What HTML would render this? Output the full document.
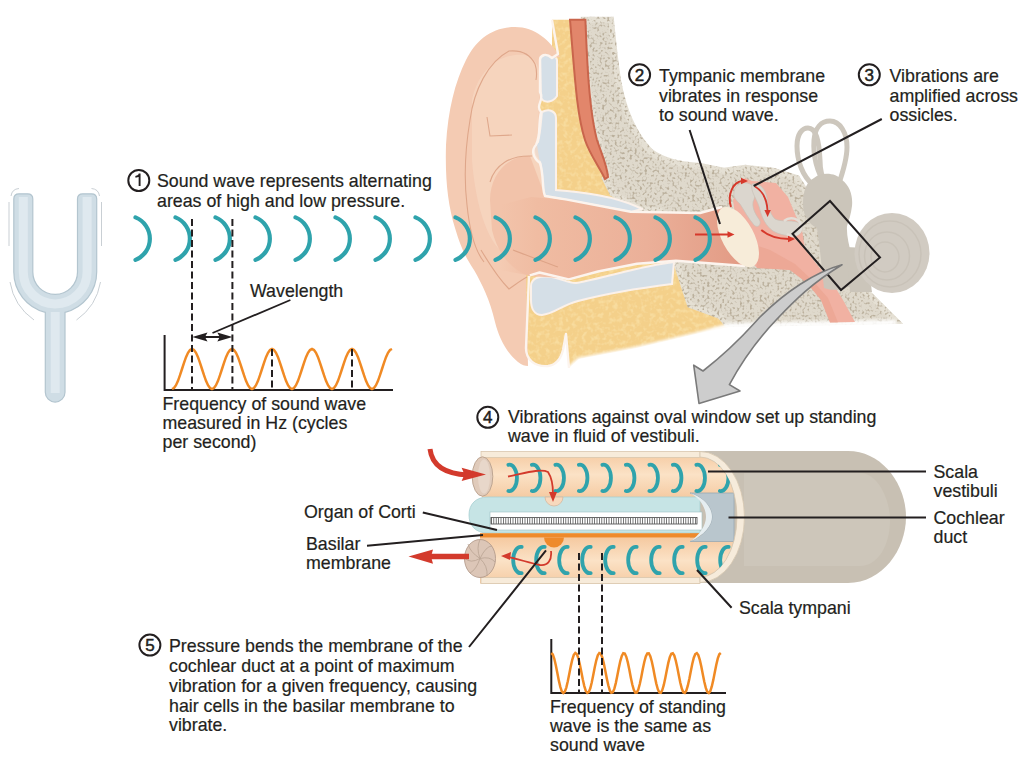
<!DOCTYPE html>
<html><head><meta charset="utf-8"><style>
html,body{margin:0;padding:0;background:#fff;width:1024px;height:761px;overflow:hidden}
svg{display:block}
text{font-family:"Liberation Sans",sans-serif;font-size:17.8px;fill:#231f20;stroke:#231f20;stroke-width:0.2px}
text.n{font-size:17px;stroke-width:0.5px;text-anchor:middle}
</style></head><body>
<svg width="1024" height="761" viewBox="0 0 1024 761">
<defs>
<filter id="sponge" x="0" y="0" width="100%" height="100%" filterUnits="userSpaceOnUse">
<feTurbulence type="fractalNoise" baseFrequency="0.4" numOctaves="1" seed="3" result="n"/>
<feColorMatrix in="n" type="matrix" values="0 0 0 0 0  0 0 0 0 0  0 0 0 0 0  -5 0 0 0 2.45" result="spots"/>
<feFlood flood-color="#bbb09c" result="c"/>
<feComposite in="c" in2="spots" operator="in" result="cs"/>
<feComposite in="cs" in2="SourceGraphic" operator="atop"/>
</filter>
<filter id="fatf" x="0" y="0" width="100%" height="100%" filterUnits="userSpaceOnUse">
<feTurbulence type="fractalNoise" baseFrequency="0.22" numOctaves="2" seed="5" result="n"/>
<feColorMatrix in="n" type="matrix" values="0 0 0 0 0  0 0 0 0 0  0 0 0 0 0  3.5 0 0 0 -1.65" result="spots"/>
<feFlood flood-color="#f8dc9e" result="c"/>
<feComposite in="c" in2="spots" operator="in" result="cs"/>
<feComposite in="cs" in2="SourceGraphic" operator="atop"/>
</filter>
<filter id="soft" x="-10%" y="-50%" width="120%" height="200%"><feGaussianBlur stdDeviation="1.8"/></filter>
<linearGradient id="canal" gradientUnits="userSpaceOnUse" x1="500" x2="745" y1="0" y2="0"><stop offset="0" stop-color="#f0bea4" stop-opacity="0"/><stop offset="0.15" stop-color="#f0bca2"/><stop offset="0.6" stop-color="#ebb099"/><stop offset="1" stop-color="#e29a84"/></linearGradient>
<linearGradient id="peach" x1="0" x2="0" y1="0" y2="1"><stop offset="0" stop-color="#f5cfae"/><stop offset="0.5" stop-color="#fbe3cb"/><stop offset="1" stop-color="#f5cfae"/></linearGradient>
</defs>
<g id="ear">
<!-- yellow fat -->
<path fill="#f4d08a" filter="url(#fatf)" d="M552,19.7 L572,19.7 L585,140 L605,179 L640,209 L720,213 L720,262 L676,262 L690,305 L720,316 L728,327 L696,334 L637,348 L579,359 L569,368 L566,334 L563,350 C561,358 556,365 548,366 C535,367 526,360 526,348 L526,273 L536,200 L532,142 L540,90 L552,54 Z"/>
<!-- bone -->
<path id="bonep" fill="#dfd9cc" filter="url(#sponge)" d="M584,19.7 L611,19.7 C613,40 615,60 618,80 C623,108 632,133 651,152 C663,161 682,165 700,166 L724,170.6 L745,167.7 L773,170.6 L797,178 L806,192 L835,240 L864,289 L896,321 L727,324 L720,316 L690,305 L676,262 L660,211 L640,208.7 L612.6,193.6 L605,178.5 L608,175 L597.5,136 L588.4,90.7 Z"/>
<use href="#bonep" fill="none" stroke="#e5e0d4" stroke-width="6"/>
<!-- red band -->
<path fill="#e2866b" stroke="#c9654c" stroke-width="2" d="M570,19.7 L585.4,19.7 C587,60 589,110 597,140 C602,155 607,165 608,177 L605,179 C600,168 590,155 585,140 C577,115 575,80 570,19.7 Z"/>
<!-- cartilage -->
<g fill="#d5dfe7" stroke="#fbf1ea" stroke-width="2">
<path d="M540,58 C546,52 556,54 557,60 L557,96 C553,102 545,104 541,98 Z"/>
<path d="M542,112 C550,108 556,112 556,118 L556,190 L567,191 C590,193 620,198 642,209 L631,212 L567,200 L545,196 C540,185 543,170 540,162 C533,155 532,146 538,142 C541,130 541,118 542,112 Z"/>
<path d="M531,286 C531,278 540,275 552,277 C562,279 568,283 576,283 C605,278 640,266 674,262 L672,284 C640,288 605,294 578,301 C562,305 554,314 542,315 C534,315 531,308 531,300 Z"/>
</g>
<path d="M569,369 L579,360 L637,349 L696,335 L728,326 L896,322.5" fill="none" stroke="#fff" stroke-width="5" filter="url(#soft)"/>
<!-- pinna -->
<path fill="#f4cbb3" d="M560,57 C550,40 535,27 515,27 C492,27 476,40 466,60 C455,82 448,110 446,145 C445,180 448,205 455,228 C461,248 466,258 474,270 C482,284 490,300 495,322 C499,338 506,352 518,362 C522,365 525,366 528,366 L526,273 L545,196 C542,190 544,175 540,163 C533,158 531,150 536,145 C541,135 538,125 541,112 C535,105 545,100 540,92 L540,60 C540,56 545,52 552,58 Z"/>
<path fill="#f7d7c2" opacity="0.7" d="M472,100 C478,70 500,52 525,55 C538,58 541,70 540,90 L537,145 L540,163 L545,196 L500,250 C485,235 475,200 472,160 Z"/>
<!-- concha -->
<path fill="#f2c3aa" d="M490,200 C490,175 508,155 530,156 L545,196 L560,200 L560,278 L529,276 C512,270 498,255 492,230 Z"/>
<!-- canal -->
<path fill="url(#canal)" d="M500,205 L531,197 L567,200 L631,211.7 L700,213 L722,207 L745,266 L676,261 L637,263.7 L598,271.5 L568.8,279.3 L539.5,272.5 L529.8,275.4 L500,270 Z"/>
<!-- white outlines -->
<g fill="none" stroke="#fcf4ee" stroke-width="2.4" stroke-linejoin="round">
<path d="M552,19.7 L558,54 L552,58 C545,52 540,56 540,60 L540,92 C545,100 535,105 541,112 C538,125 541,135 536,145 C531,150 533,158 540,163 C544,175 542,190 545,196 L567,199.6 L630.7,211.7 L700,213 L722,207"/>
<path d="M529.8,275.4 L539.5,272.5 L568.8,279.3 L598,271.5 L637,263.7 L676,260.7 L745,266"/>
<path d="M529,276 L526,348 C526,360 535,367 548,366 C556,365 561,358 563,350 L566,334 L569,368"/>
</g>
<!-- pinna lines -->
<g fill="none" stroke="#dba083" stroke-width="1.1" opacity="0.85">
<path d="M470,120 C474,90 488,62 509,51 C520,50 530,54 535,64 C537,70 537,74 536,80"/>
<path d="M470,120 C465,150 464,180 467,205 C470,235 476,252 484,262"/>
<path d="M487,117 L490,136 L512,135"/>
<path d="M490,182 C495,165 510,155 532,156"/>
<path d="M481,250 C490,265 500,280 509,289 C515,285 521,280 527,277"/>
<path d="M513,250 C528,256 545,262 558,267"/>
</g>
<!-- middle ear cavity -->
<path fill="#f1b1a2" d="M745,178 L752,181 L776,183 L788,197 L795,214 L802,230 L805,249 L818,266 L832,282 L843,300 L855,322 L830,322.5 L821,300 L807,283 L790,270 L757,268 L740,250 L733,200 Z"/>
<path fill="#e9a08a" opacity="0.5" d="M757,268 L790,270 L807,283 L821,300 L830,322.5 L838,322.5 L828,298 L812,280 L795,264 L770,250 L755,245 Z"/>
<!-- membrane -->
<ellipse cx="738" cy="237" rx="16" ry="33" transform="rotate(-28 738 237)" fill="#f7ecd9"/>
<!-- ossicles -->
<g fill="#dbd6ce" stroke="#c9c2b8" stroke-width="0.7">
<path d="M734,192 C735,184 743,181 750,184 C756,188 756,196 753,202 C752,210 757,216 760,221 C761,226 757,228 754,225 C748,218 744,210 740,204 C736,200 733,197 734,192 Z"/>
<path d="M752,184 C760,182 766,190 767,198 C768,206 770,214 775,219 C781,222 790,220 797,222 C803,224 804,232 798,235 C790,237 780,235 773,231 C766,226 762,218 760,210 C758,200 750,192 752,184 Z"/>
</g>
<path d="M784,221 C790,216 800,218 801,226 C802,234 793,238 787,234" fill="none" stroke="#e3ded7" stroke-width="2.5"/>
<!-- inner ear -->
<g fill="none" stroke="#cdc7bd" stroke-width="5">
<path d="M814,186 C802,176 797,160 797,146 C797,134 802,128 808,128 C816,128 819,140 820,160 C820,170 822,178 826,184"/>
<path d="M826,186 C817,172 813,155 814,140 C815,128 821,121 830,121 C840,121 847,133 847,147 C847,160 843,172 838,186"/>
</g>
<path fill="#cbc5ba" d="M814,178 C820,172 836,172 842,180 C850,186 853,196 852,206 C851,214 849,220 847,226 C846,240 853,258 857,278 C852,290 835,292 824,288 C822,270 820,248 817,228 C808,224 803,214 803,204 C803,192 806,182 814,178 Z"/>
<path d="M846,247 L866,248 L872,292 L850,292 Z" fill="#cbc5ba"/>
<ellipse cx="892" cy="253" rx="37.5" ry="40" fill="#d1cbc2"/>
<g fill="none" stroke="#bfb8ad" stroke-width="1.5" opacity="0.45">
<ellipse cx="890" cy="254" rx="31" ry="33"/><ellipse cx="887" cy="256" rx="22.5" ry="24"/><ellipse cx="885" cy="257" rx="14" ry="15"/>
</g>
<!-- red arrows -->
<g fill="none" stroke="#d6382b" stroke-width="1.9">
<path d="M695,234.5 H729"/>
<path d="M731,207 C727,195 733,182 742,181"/>
<path d="M755,186.5 C763,191 767,200 767.6,211"/>
<path d="M761.3,230 C768,236 778,239 789,239"/>
</g>
<g fill="#d6382b">
<path d="M734.5,234.5 l-7,-3.2 v6.4 z"/>
<path d="M748,181 l-7,-3.2 v6.4 z"/>
<path d="M767.6,217 l-3.2,-7 h6.4 z"/>
<path d="M795,239 l-7,-3.2 v6.4 z"/>
</g>
<!-- box -->
<path d="M830,201 L880,257.5 L841,290 L792.5,233.75 Z" fill="none" stroke="#231f20" stroke-width="2"/>
<!-- gray arrow -->
<path d="M842,264.7 C815,272 785,292 760,317 C748,330 735,346 703,371 L693.7,365.2 L699,403.5 L740,391 L729.4,384.6 C740,365 757,340 777,319 C795,300 812,283 842,264.7 Z" fill="#cdcdcd" stroke="#7a7a7a" stroke-width="1.6" stroke-linejoin="round"/>
<!-- pointer lines -->
<path d="M689.6,130 L720,224 M881.8,119 L753.6,186" stroke="#231f20" stroke-width="2" fill="none"/>
</g>

<!-- tuning fork -->
<g id="fork">
<path d="M13.8,199 Q13.8,193.8 19,193.8 L27.6,193.8 Q32.8,193.8 32.8,199 L32.8,272 A22.35,22.35 0 0 0 77.5,272 L77.5,199 Q77.5,193.8 82.7,193.8 L91.5,193.8 Q96.7,193.8 96.7,199 L96.7,272 A41.45,41.45 0 0 1 65,312.3 L65,392.2 A9.85,9.85 0 0 1 45.3,392.2 L45.3,312.3 A41.45,41.45 0 0 1 13.8,272 Z" fill="#cfdde5" stroke="#b3c5cf" stroke-width="1.2"/>
<path d="M23.3,197 V272 A31.9,31.9 0 0 0 87.1,272 V197 M55.2,312 V393" fill="none" stroke="#dfe9ef" stroke-width="9"/>
<g fill="none" stroke="#c3cacf" stroke-width="0.9">
<path d="M9,202 V246 M101.5,202 V246 M11,196 Q12,189 19,188.5 M99.5,196 Q98.5,189 91.5,188.5 M10,282 Q14,306 34,320 M100.5,282 Q96.5,306 76.5,320"/>
</g>
</g>
<path d="M135.5,217.4 A22.9,22.9 0 0 1 135.5,259.9 M175.5,217.4 A22.9,22.9 0 0 1 175.5,259.9 M215.5,217.4 A22.9,22.9 0 0 1 215.5,259.9 M255.5,217.4 A22.9,22.9 0 0 1 255.5,259.9 M295.5,217.4 A22.9,22.9 0 0 1 295.5,259.9 M335.5,217.4 A22.9,22.9 0 0 1 335.5,259.9 M375.5,217.4 A22.9,22.9 0 0 1 375.5,259.9 M415.5,217.4 A22.9,22.9 0 0 1 415.5,259.9 M455.5,217.4 A22.9,22.9 0 0 1 455.5,259.9 M495.5,217.4 A22.9,22.9 0 0 1 495.5,259.9 M535.5,217.4 A22.9,22.9 0 0 1 535.5,259.9 M575.5,217.4 A22.9,22.9 0 0 1 575.5,259.9 M615.5,217.4 A22.9,22.9 0 0 1 615.5,259.9 M655.5,217.4 A22.9,22.9 0 0 1 655.5,259.9 M695.5,217.4 A22.9,22.9 0 0 1 695.5,259.9" fill="none" stroke="#2fa3ac" stroke-width="4.2" stroke-linecap="round"/>
<g id="coch">
<defs>
<linearGradient id="sv" x1="0" x2="0" y1="0" y2="1"><stop offset="0" stop-color="#f5c9a0"/><stop offset="0.5" stop-color="#fbe2c6"/><stop offset="1" stop-color="#f5cba3"/></linearGradient>
<clipPath id="rimclip"><path d="M400,440 H700 V457 A37,60 0 0 1 700,577 V600 H400 Z"/></clipPath>
</defs>
<!-- outer gray cylinder -->
<path d="M690,451 H848 C882,451 906,484 906,517 C906,550 882,583 848,583 H690 Z" fill="#c8c0b3"/>
<path d="M744,473 H860 C878,473 890,500 890,520 C890,545 878,566 860,566 H744 Z" fill="#cdc6ba"/>
<!-- top/bottom cream strips -->

<!-- scala vestibuli -->
<g clip-path="url(#rimclip)"><rect x="482" y="452" width="280" height="45" fill="url(#sv)"/>
<!-- scala tympani -->
<rect x="480" y="537.5" width="280" height="46" fill="url(#sv)"/></g>
<!-- cross-section inside rim -->

<rect x="481" y="451.5" width="219" height="6" fill="#f7ebda" stroke="#d9c6ad" stroke-width="0.8"/>
<rect x="481" y="577.5" width="219" height="6" fill="#f7ebda" stroke="#d9c6ad" stroke-width="0.8"/>
<!-- cochlear duct -->
<path d="M488,497 H700 V533 H488 C475,533 469,525 469,515 C469,504 476,497 488,497 Z" fill="#c6e4e5" stroke="#a7cfd2" stroke-width="0.8"/>
<!-- notch -->
<path d="M545,497 A9,9 0 0 0 563,497 Z" fill="#f7d9bd" stroke="#d8b89c" stroke-width="0.8"/>
<!-- organ of corti -->
<rect x="490" y="512" width="212" height="18" fill="#ffffff" stroke="#9dbfc3" stroke-width="0.6"/>
<rect x="491" y="517.5" width="206" height="6.5" fill="#fff" stroke="#444" stroke-width="0.8"/>
<path d="M491,521 H697" stroke="#555" stroke-width="6" stroke-dasharray="0.8,1.6" fill="none"/>
<rect x="492.5" y="519" width="203" height="3.5" fill="#fff" opacity="0.0"/>
<!-- basilar membrane -->
<rect x="480" y="533.2" width="222" height="4.4" fill="#ee8a2c"/>
<path d="M544,537.5 A10,10 0 0 0 564,537.5 Z" fill="#ee8a2c"/>
<!-- cochlear duct end -->
<path d="M690,493 H734 V541.5 H690 C705,535 712,525 712,517 C712,508 705,498 690,493 Z" fill="#b9c6cd" stroke="#98a8b2" stroke-width="0.8"/>
<path d="M690,493 C705,498 712,508 712,517 C712,525 705,535 690,541.5 C700,535 706,525 706,517 C706,508 700,498 690,493 Z" fill="#e6eef1"/>
<!-- rim -->
<path d="M700,451.5 A44.5,65.5 0 0 1 700,582.5 L700,577 A37,60 0 0 0 700,457 Z" fill="#f6ebdb" stroke="#d6c6b0" stroke-width="0.8"/>
<!-- oval window -->
<ellipse cx="482.5" cy="476.5" rx="10.3" ry="19.7" fill="#e0cbbb" stroke="#b9a08c" stroke-width="0.9"/><ellipse cx="484" cy="476.5" rx="6" ry="17" fill="#e8d7ca"/>
<!-- round window -->
<ellipse cx="480" cy="558.5" rx="15.5" ry="19" fill="#dcc6b7" stroke="#b39b8b" stroke-width="0.9"/>
<g stroke="#b9a393" stroke-width="0.8" fill="none">
<path d="M480,558.5 Q476,548 480,539.5 M480,558.5 Q486,546 492,546 M480,558.5 Q490,556 495,562 M480,558.5 Q488,566 487,576 M480,558.5 Q476,570 470,573 M480,558.5 Q470,564 465,558 M480,558.5 Q470,552 468,544"/>
</g>
<!-- teal arcs -->
<g clip-path="url(#rimclip)"><path d="M508.4,464.8 A7.6,13.2 0 1 1 508.4,491.0 M531.9,464.8 A7.6,13.2 0 1 1 531.9,491.0 M555.4,464.8 A7.6,13.2 0 1 1 555.4,491.0 M578.9,464.8 A7.6,13.2 0 1 1 578.9,491.0 M602.4,464.8 A7.6,13.2 0 1 1 602.4,491.0 M625.9,464.8 A7.6,13.2 0 1 1 625.9,491.0 M649.4,464.8 A7.6,13.2 0 1 1 649.4,491.0 M672.9,464.8 A7.6,13.2 0 1 1 672.9,491.0 M696.4,464.8 A7.6,13.2 0 1 1 696.4,491.0 M719.9,464.8 A7.6,13.2 0 1 1 719.9,491.0" fill="none" stroke="#2fa3ac" stroke-width="3.8" stroke-linecap="round"/>
<path d="M521.7,546.9 A7.6,13.2 0 1 0 521.7,573.1 M544.7,546.9 A7.6,13.2 0 1 0 544.7,573.1 M567.7,546.9 A7.6,13.2 0 1 0 567.7,573.1 M590.7,546.9 A7.6,13.2 0 1 0 590.7,573.1 M613.7,546.9 A7.6,13.2 0 1 0 613.7,573.1 M636.7,546.9 A7.6,13.2 0 1 0 636.7,573.1 M659.7,546.9 A7.6,13.2 0 1 0 659.7,573.1 M682.7,546.9 A7.6,13.2 0 1 0 682.7,573.1 M705.7,546.9 A7.6,13.2 0 1 0 705.7,573.1 M728.7,546.9 A7.6,13.2 0 1 0 728.7,573.1" fill="none" stroke="#2fa3ac" stroke-width="3.8" stroke-linecap="round"/></g>
<!-- red arrows -->
<g fill="none" stroke="#d33a2c" stroke-linecap="butt">
<path d="M430,449 C432,466 446,474 468,475" stroke-width="5"/>
<path d="M469,556.6 H431" stroke-width="5.5"/>
<path d="M508,476.5 C522,474 540,468 548,472 C552,478 553,488 553,494" stroke-width="1.8"/>
<path d="M551,551 C552,560 548,566 540,565 C530,563 518,559 508,557" stroke-width="1.8"/>
</g>
<g fill="#d33a2c">
<path d="M486,474.4 L461.6,467.8 L464.5,474.4 L461.6,481 Z"/>
<path d="M408.5,556.6 L433,549.5 L431,556.6 L433,563.7 Z"/>
<path d="M553,502 L549,492 L557,492 Z"/>
<path d="M501,556 L511,552 L510,560 Z"/>
</g>
<!-- pointer lines -->
<path d="M422.8,512.5 L497,530 M367,545.7 L483,535 M708,471.6 H926 M728.5,517.5 H926 M697,570 L731.6,607.7 M469,647 L546,550.4" stroke="#231f20" stroke-width="2" fill="none"/>
</g>

<!-- chart 1 -->
<path d="M164.6,335 V390 H393" stroke="#231f20" stroke-width="2" fill="none"/>
<path d="M172.0,389.0 L174.0,388.0 L176.0,385.2 L178.0,380.8 L180.0,375.2 L182.0,369.0 L184.0,362.8 L186.0,357.2 L188.0,352.8 L190.0,350.0 L192.0,349.0 L194.0,350.0 L196.0,352.8 L198.0,357.2 L200.0,362.8 L202.0,369.0 L204.0,375.2 L206.0,380.8 L208.0,385.2 L210.0,388.0 L212.0,389.0 L214.0,388.0 L216.0,385.2 L218.0,380.8 L220.0,375.2 L222.0,369.0 L224.0,362.8 L226.0,357.2 L228.0,352.8 L230.0,350.0 L232.0,349.0 L234.0,350.0 L236.0,352.8 L238.0,357.2 L240.0,362.8 L242.0,369.0 L244.0,375.2 L246.0,380.8 L248.0,385.2 L250.0,388.0 L252.0,389.0 L254.0,388.0 L256.0,385.2 L258.0,380.8 L260.0,375.2 L262.0,369.0 L264.0,362.8 L266.0,357.2 L268.0,352.8 L270.0,350.0 L272.0,349.0 L274.0,350.0 L276.0,352.8 L278.0,357.2 L280.0,362.8 L282.0,369.0 L284.0,375.2 L286.0,380.8 L288.0,385.2 L290.0,388.0 L292.0,389.0 L294.0,388.0 L296.0,385.2 L298.0,380.8 L300.0,375.2 L302.0,369.0 L304.0,362.8 L306.0,357.2 L308.0,352.8 L310.0,350.0 L312.0,349.0 L314.0,350.0 L316.0,352.8 L318.0,357.2 L320.0,362.8 L322.0,369.0 L324.0,375.2 L326.0,380.8 L328.0,385.2 L330.0,388.0 L332.0,389.0 L334.0,388.0 L336.0,385.2 L338.0,380.8 L340.0,375.2 L342.0,369.0 L344.0,362.8 L346.0,357.2 L348.0,352.8 L350.0,350.0 L352.0,349.0 L354.0,350.0 L356.0,352.8 L358.0,357.2 L360.0,362.8 L362.0,369.0 L364.0,375.2 L366.0,380.8 L368.0,385.2 L370.0,388.0 L372.0,389.0 L374.0,388.0 L376.0,385.2 L378.0,380.8 L380.0,375.2 L382.0,369.0 L384.0,362.8 L386.0,357.2 L388.0,352.8 L390.0,350.0 L392.0,349.0" fill="none" stroke="#f08a24" stroke-width="2.5"/>
<path d="M192,219 V389 M232.4,219 V389 M272,349 V389 M352,349 V389" stroke="#231f20" stroke-width="2" stroke-dasharray="7,3.5" fill="none"/>
<path d="M203,337 H222 M212.5,333 L290.4,300" stroke="#231f20" stroke-width="1.8" fill="none"/>
<path d="M192.3,337 L207.5,332.6 L205,337 L207.5,341.4 Z M232.5,337 L217.3,332.6 L219.8,337 L217.3,341.4 Z" fill="#231f20"/>
<!-- chart 2 -->
<path d="M551.3,639 V693 H726" stroke="#231f20" stroke-width="2" fill="none"/>
<path d="M551.3,653.0 L552.8,654.5 L554.3,658.8 L555.8,665.2 L557.3,672.7 L558.8,680.4 L560.3,686.9 L561.8,691.3 L563.3,693.0 L564.8,691.7 L566.3,687.6 L567.8,681.3 L569.3,673.8 L570.8,666.1 L572.3,659.5 L573.8,654.9 L575.3,653.0 L576.8,654.1 L578.3,658.1 L579.8,664.2 L581.3,671.7 L582.8,679.4 L584.3,686.1 L585.8,690.9 L587.3,692.9 L588.8,692.0 L590.3,688.3 L591.8,682.2 L593.3,674.8 L594.8,667.1 L596.3,660.3 L597.8,655.4 L599.3,653.1 L600.8,653.8 L602.3,657.4 L603.8,663.3 L605.3,670.7 L606.8,678.4 L608.3,685.3 L609.8,690.4 L611.3,692.8 L612.8,692.3 L614.3,688.9 L615.8,683.1 L617.3,675.8 L618.8,668.1 L620.3,661.1 L621.8,655.9 L623.3,653.2 L624.8,653.5 L626.3,656.8 L627.8,662.4 L629.3,669.6 L630.8,677.4 L632.3,684.5 L633.8,689.8 L635.3,692.7 L636.8,692.6 L638.3,689.5 L639.8,684.0 L641.3,676.9 L642.8,669.1 L644.3,662.0 L645.8,656.5 L647.3,653.4 L648.8,653.3 L650.3,656.2 L651.8,661.5 L653.3,668.6 L654.8,676.4 L656.3,683.6 L657.8,689.2 L659.3,692.5 L660.8,692.8 L662.3,690.1 L663.8,684.9 L665.3,677.9 L666.8,670.2 L668.3,662.9 L669.8,657.1 L671.3,653.7 L672.8,653.2 L674.3,655.6 L675.8,660.7 L677.3,667.6 L678.8,675.3 L680.3,682.7 L681.8,688.6 L683.3,692.2 L684.8,692.9 L686.3,690.6 L687.8,685.7 L689.3,678.9 L690.8,671.2 L692.3,663.8 L693.8,657.7 L695.3,654.0 L696.8,653.1 L698.3,655.1 L699.8,659.9 L701.3,666.6 L702.8,674.3 L704.3,681.8 L705.8,687.9 L707.3,691.9 L708.8,693.0 L710.3,691.1 L711.8,686.5 L713.3,679.9 L714.8,672.2 L716.3,664.7 L717.8,658.4 L719.3,654.3 L720.8,653.0" fill="none" stroke="#f08a24" stroke-width="2.5"/>
<path d="M579,553 V693 M602,553 V693" stroke="#231f20" stroke-width="2" stroke-dasharray="7,3.5" fill="none"/>
<!-- texts -->
<g>
<g fill="none" stroke="#231f20" stroke-width="2">
<circle cx="138.8" cy="180.5" r="10.5"/><circle cx="639.6" cy="74.8" r="10.5"/><circle cx="869.3" cy="74.8" r="10.5"/><circle cx="487.8" cy="417.3" r="10.5"/><circle cx="149.9" cy="645.1" r="10.5"/>
</g>
<path d="M139.6,186.1 V173.6 M139.6,174.3 C138.8,176 137.5,176.6 135.4,176.9" stroke="#231f20" stroke-width="1.9" fill="none"/>
<text class="n" x="639.6" y="80.6">2</text>
<text class="n" x="869.3" y="80.6">3</text>
<text class="n" x="487.8" y="422.8">4</text>
<text class="n" x="149.9" y="650.7">5</text>
<text x="157" y="187">Sound wave represents alternating</text>
<text x="157" y="206.5">areas of high and low pressure.</text>
<text x="250" y="297.3">Wavelength</text>
<text x="162.5" y="409.5">Frequency of sound wave</text>
<text x="162.5" y="428.6">measured in Hz (cycles</text>
<text x="162.5" y="447.7">per second)</text>
<text x="659" y="81.8">Tympanic membrane</text>
<text x="659" y="101.5">vibrates in response</text>
<text x="659" y="121">to sound wave.</text>
<text x="889.5" y="81.8">Vibrations are</text>
<text x="889.5" y="101.5">amplified across</text>
<text x="889.5" y="121">ossicles.</text>
<text x="508" y="422.8">Vibrations against oval window set up standing</text>
<text x="508" y="442.2">wave in fluid of vestibuli.</text>
<text x="304" y="518.3">Organ of Corti</text>
<text x="306" y="549.6">Basilar</text>
<text x="306" y="569">membrane</text>
<text x="933.5" y="478">Scala</text>
<text x="933.5" y="497">vestibuli</text>
<text x="933.5" y="524">Cochlear</text>
<text x="933.5" y="543">duct</text>
<text x="739" y="614">Scala tympani</text>
<text x="169" y="652.3">Pressure bends the membrane of the</text>
<text x="169" y="672">cochlear duct at a point of maximum</text>
<text x="169" y="691.8">vibration for a given frequency, causing</text>
<text x="169" y="711.6">hair cells in the basilar membrane to</text>
<text x="169" y="731.3">vibrate.</text>
<text x="550" y="713">Frequency of standing</text>
<text x="550" y="732">wave is the same as</text>
<text x="550" y="751">sound wave</text>
</g>
</svg>
</body></html>
